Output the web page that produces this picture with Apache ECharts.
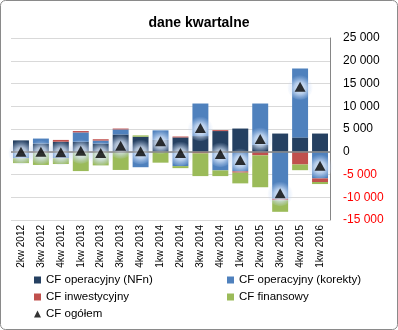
<!DOCTYPE html>
<html><head><meta charset="utf-8">
<script src="https://cdn.jsdelivr.net/npm/echarts@6/dist/echarts.min.js"></script>
<style>html,body{margin:0;padding:0;background:#fff}#c{width:398px;height:330px}</style>
</head><body><div id="c"></div>
<script>
var categories = ['2kw 2012','3kw 2012','4kw 2012','1kw 2013','2kw 2013','3kw 2013','4kw 2013','1kw 2014','2kw 2014','3kw 2014','4kw 2014','1kw 2015','2kw 2015','3kw 2015','4kw 2015','1kw 2016'];
var cfNfn = [2500, 1800, 2200, 2200, 1800, 3800, 3300, 2600, 3150, 3450, 4550, 5100, 1500, 4000, 3150, 4000];
var cfKorekty = [-1400, 1100, -1400, 2050, 650, 1100, -3400, 2100, -3150, 7150, -4100, -4300, 9100, -10300, 15150, -5850];
var cfInwest = [0, -200, 400, 300, 300, 200, 0, 0, 200, -350, 200, -300, -800, -350, -2800, -800];
var cfFin = [-1100, -2700, -1300, -4250, -3000, -4000, 300, -2400, -450, -5000, -1250, -2350, -7000, -2550, -1250, -450];
var cfOgolem = [0, 0, -100, 200, -250, 1300, 100, 2300, -300, 5200, -500, -1800, 2800, -9100, 14300, -3100];
var yTicks = {min: -15000, max: 25000, interval: 5000};

var FONT = 'Liberation Sans';
function fmt(v){
  var a = Math.abs(v), s;
  if (a >= 1000) { var r = String(a % 1000); while (r.length < 3) r = '0' + r; s = Math.floor(a/1000) + ' ' + r; }
  else s = String(a);
  return (v < 0 ? '-' : '') + s;
}
var chart = echarts.init(document.getElementById('c'), null, {renderer: 'canvas'});
var barBase = {type: 'bar', stack: 'cf', barCategoryGap: '20%', xAxisIndex: 0, yAxisIndex: 0};
function legendItem(name, left, top, icon){
  return {data: [{name: name, icon: icon}], left: left, top: top, itemWidth: 7, itemHeight: 7, itemGap: 4, padding: 0,
    textStyle: {fontFamily: FONT, fontSize: 11.5, color: '#000'}, selectedMode: false};
}
var glow = new echarts.graphic.RadialGradient(0.5, 0.55, 0.5, [
  {offset: 0, color: 'rgba(240,246,255,1)'},
  {offset: 0.45, color: 'rgba(215,230,250,0.85)'},
  {offset: 1, color: 'rgba(190,210,245,0)'}
]);
chart.setOption({
  animation: false,
  title: {text: 'dane kwartalne', left: 'center', top: 11, textStyle: {fontFamily: FONT, fontSize: 14, fontWeight: 'bold', color: '#000'}},
  grid: {left: 11, right: 68, top: 38, bottom: 110},
  graphic: [{type: 'rect', shape: {x: 0.5, y: 0.5, width: 397, height: 329, r: 5}, style: {fill: 'none', stroke: '#8a8a8a', lineWidth: 1}, z: 100}],
  legend: [
    legendItem('CF operacyjny (NFn)', 34, 274, 'rect'),
    legendItem('CF operacyjny (korekty)', 227, 274, 'rect'),
    legendItem('CF inwestycyjny', 34, 291, 'rect'),
    legendItem('CF finansowy', 227, 291, 'rect'),
    legendItem('CF ogółem', 34, 308, 'triangle')
  ],
  xAxis: {type: 'category', data: categories, axisLine: {show: false}, axisTick: {show: false},
    axisLabel: {rotate: 90, margin: 5, interval: 0, fontFamily: FONT, fontSize: 10, color: '#000'}},
  yAxis: {type: 'value', position: 'right', min: yTicks.min, max: yTicks.max, interval: yTicks.interval,
    axisLine: {show: true, lineStyle: {color: '#868686'}}, axisTick: {show: false},
    splitLine: {lineStyle: {color: '#d9d9d9'}},
    axisLabel: {margin: 13, fontFamily: FONT, fontSize: 12, formatter: fmt,
      color: function(v){ return Number(v) < 0 ? '#ff0000' : '#000'; }}},
  series: [
    Object.assign({}, barBase, {name: 'CF operacyjny (NFn)', data: cfNfn, itemStyle: {color: '#254061'},
      markLine: {silent: true, symbol: 'none', label: {show: false}, lineStyle: {color: '#868686', type: 'solid', width: 1.5}, data: [{yAxis: 0}]}}),
    Object.assign({}, barBase, {name: 'CF operacyjny (korekty)', data: cfKorekty, itemStyle: {color: '#4f81bd'}}),
    Object.assign({}, barBase, {name: 'CF inwestycyjny', data: cfInwest, itemStyle: {color: '#c0504d'}}),
    Object.assign({}, barBase, {name: 'CF finansowy', data: cfFin, itemStyle: {color: '#9bbb59'}}),
    {name: 'glow', type: 'scatter', data: cfOgolem, symbol: 'circle', symbolSize: 26, z: 4, silent: true,
      itemStyle: {color: glow}},
    {name: 'CF ogółem', type: 'scatter', data: cfOgolem, symbol: 'triangle', symbolSize: [11, 10], z: 5,
      itemStyle: {color: '#000', shadowBlur: 6, shadowColor: 'rgba(235,243,255,1)'}}
  ]
});
</script></body></html>
